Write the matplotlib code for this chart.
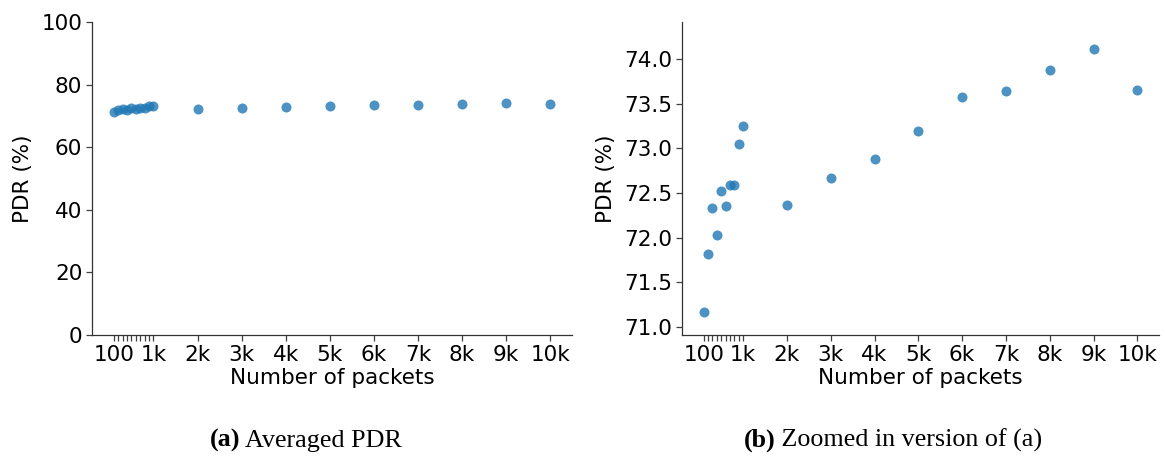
import matplotlib
matplotlib.use("Agg")
import matplotlib.pyplot as plt

# Number of packets per run and the averaged packet delivery ratio (%)
packets = [100, 200, 300, 400, 500, 600, 700, 800, 900, 1000,
           2000, 3000, 4000, 5000, 6000, 7000, 8000, 9000, 10000]
pdr = [71.17, 71.81, 72.33, 72.03, 72.52, 72.35, 72.59, 72.59, 73.05, 73.25,
       72.36, 72.67, 72.88, 73.20, 73.58, 73.64, 73.88, 74.11, 73.66]

xtick_pos = [100, 200, 300, 400, 500, 600, 700, 800, 900, 1000,
             2000, 3000, 4000, 5000, 6000, 7000, 8000, 9000, 10000]
xtick_labels = ["100", "", "", "", "", "", "", "", "", "1k",
                "2k", "3k", "4k", "5k", "6k", "7k", "8k", "9k", "10k"]

left_yticks = [0, 20, 40, 60, 80, 100]
right_yticks = [71.0, 71.5, 72.0, 72.5, 73.0, 73.5, 74.0]

captions = [("(a)", " Averaged PDR"), ("(b)", " Zoomed in version of (a)")]

plt.rcParams["font.family"] = ["DejaVu Sans"]
FS = 15.5
CAP_FS = 18.8
POINT_COLOR = "#1f77b4"

fig = plt.figure(figsize=(11.65, 4.59), dpi=100)
W, H = 1165, 459
ax1 = fig.add_axes([92 / W, (H - 335) / H, 480 / W, 313 / H])
ax2 = fig.add_axes([682 / W, (H - 335) / H, 477 / W, 313 / H])

for ax in (ax1, ax2):
    ax.scatter(packets, pdr, s=52, color=POINT_COLOR, alpha=0.8, linewidths=0)
    ax.set_xticks(xtick_pos)
    ax.set_xticklabels(xtick_labels)
    ax.set_xlim(-395, 10495)
    ax.set_xlabel("Number of packets", fontsize=FS, labelpad=2)
    ax.set_ylabel("PDR (%)", fontsize=FS, labelpad=6)
    ax.tick_params(axis="both", labelsize=FS, length=4, width=0.9,
                   color="0.25", pad=3)
    for side in ("top", "right"):
        ax.spines[side].set_visible(False)
    for side in ("left", "bottom"):
        ax.spines[side].set_color("0.2")
        ax.spines[side].set_linewidth(0.9)

ax1.set_ylim(0, 100)
ax1.set_yticks(left_yticks)

ax2.set_ylim(70.907, 74.418)
ax2.set_yticks(right_yticks)
ax2.set_yticklabels([f"{v:.1f}" for v in right_yticks])

# Subfigure captions in a serif face, with a bold tag
serif = ["Liberation Serif", "DejaVu Serif"]
caption_centers = [306 / W, 893 / W]
caption_base = 1 - 447 / H
renderer = fig.canvas.get_renderer()
for cx, (tag, rest) in zip(caption_centers, captions):
    tb = fig.text(0, caption_base, tag, fontsize=CAP_FS, family=serif,
                  weight="bold", ha="left", va="baseline")
    tr = fig.text(0, caption_base, rest, fontsize=CAP_FS, family=serif,
                  ha="left", va="baseline")
    wb = tb.get_window_extent(renderer).width / fig.bbox.width
    wr = tr.get_window_extent(renderer).width / fig.bbox.width
    x0 = cx - (wb + wr) / 2
    tb.set_x(x0)
    tr.set_x(x0 + wb)

fig.savefig("out.png", dpi=100)
